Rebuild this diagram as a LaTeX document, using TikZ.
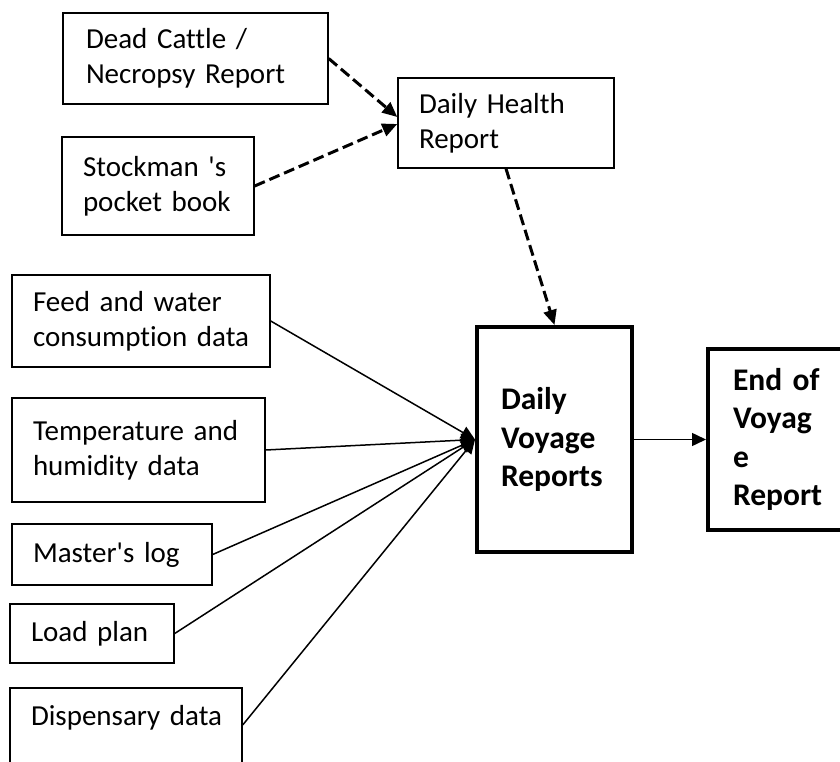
\documentclass[tikz,border=0pt]{standalone}
\usepackage{fontspec}
\newfontfamily\calfont{Carlito}[Ligatures=NoCommon]
\usetikzlibrary{arrows.meta}
\begin{document}
\begin{tikzpicture}[x=1pt,y=-1pt,
  box/.style={draw, line width=1.4pt, rectangle, align=left, inner ysep=0pt,
    font=\calfont\fontsize{29}{35}\selectfont},
  bigbox/.style={draw, line width=4pt, rectangle, align=left, inner ysep=0pt,
    font=\calfont\fontsize{31.5}{38.5}\selectfont\bfseries},
  dasharrow/.style={line width=3pt, dash pattern=on 11pt off 5pt,
    -{Triangle[length=15pt,width=13pt]}},
  thinarrow/.style={line width=1.5pt, -{Triangle[length=14pt,width=13pt]}}
]
\useasboundingbox (0,0) rectangle (840,762);
\clip (0,0) rectangle (840,762);

\node[box, minimum width=265pt, minimum height=91pt, text width=219pt, inner xsep=23pt] (dead) at (195.5,58.5) {Dead Cattle /\\Necropsy~Report};
\node[box, minimum width=192pt, minimum height=98pt, text width=150pt, inner xsep=21pt] (stock) at (158,186) {Stockman~'s\\pocket~book};
\node[box, minimum width=216pt, minimum height=90pt, text width=174pt, inner xsep=21pt] (health) at (506,123) {Daily~Health\\Report};
\node[box, minimum width=258pt, minimum height=92pt, text width=216pt, inner xsep=21pt] (feed) at (141,321) {Feed~and~water\\consumption~data};
\node[box, minimum width=253pt, minimum height=104pt, text width=211pt, inner xsep=21pt] (temp) at (138.5,450) {Temperature~and\\humidity~data};
\node[box, minimum width=200pt, minimum height=61pt, text width=158pt, inner xsep=21pt] (master) at (112,554.5) {Master's~log};
\node[box, minimum width=164pt, minimum height=59pt, text width=122pt, inner xsep=21pt] (load) at (92,633.5) {Load~plan};
\node[box, minimum width=232pt, minimum height=89pt, text width=190pt, inner xsep=21pt] (disp) at (126,732.5) {Dispensary~data\\\mbox{}};

\node[bigbox, minimum width=155pt, minimum height=225pt, text width=107pt, inner xsep=24pt] (voyage) at (554.5,439.5) {Daily\\Voyage\\Reports};
\node[bigbox, minimum width=140pt, minimum height=181pt, text width=90pt, inner xsep=25pt] (endv) at (778,439.5) {End~of\\Voyag\\e\\Report};

\draw[dasharrow] (dead.east) -- ([yshift=6pt]health.west);
\draw[dasharrow] (stock.east) -- ([yshift=-1pt]health.west);
\draw[dasharrow] (health.south) -- (voyage.north);

\draw[thinarrow] (feed.east) -- (voyage.west);
\draw[thinarrow] (temp.east) -- (voyage.west);
\draw[thinarrow] (master.east) -- (voyage.west);
\draw[thinarrow] (load.east) -- (voyage.west);
\draw[thinarrow] ([yshift=7.5pt]disp.east) -- (voyage.west);

\draw[thinarrow] (voyage.east) -- (endv.west);
\end{tikzpicture}
\end{document}
